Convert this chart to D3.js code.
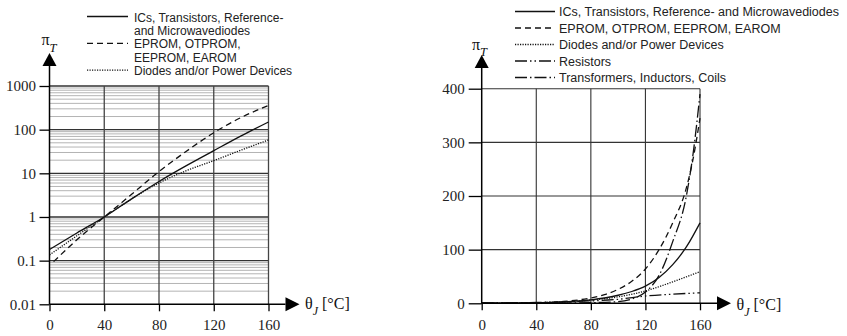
<!DOCTYPE html>
<html>
<head>
<meta charset="utf-8">
<script src="https://cdn.jsdelivr.net/npm/d3@7"></script>
<style>
    body { margin: 0; background: #fff; }
    svg { display: block; }
</style>
</head>
<body>
<svg width="847" height="336"></svg>
<script>
const X_TICKS = [0, 40, 80, 120, 160];
const LOG_TICKS = [0.01, 0.1, 1, 10, 100, 1000];
const LOG_TICK_LABELS = ['0.01', '0.1', '1', '10', '100', '1000'];
const LIN_TICKS = [0, 100, 200, 300, 400];

// left panel (log scale), [theta, pi_T]
const icsLog = [[0, 0.18], [20, 0.43], [40, 1], [60, 2.6], [80, 6.5], [100, 15], [120, 33], [140, 72], [160, 150]];
const epromLog = [[3, 0.095], [20, 0.3], [40, 1], [60, 3.3], [80, 11], [100, 32], [120, 85], [140, 190], [160, 360]];
const diodesLog = [[0, 0.135], [20, 0.37], [40, 1], [60, 2.6], [80, 6], [100, 11.5], [120, 19.5], [140, 34], [160, 58]];

// right panel (linear scale)
const icsLin = [[0, 0.18], [40, 1], [60, 2.6], [80, 6.5], [100, 15], [110, 22], [120, 32], [130, 48], [140, 72], [150, 105], [160, 150]];
const epromLin = [[0, 0.1], [40, 1], [60, 3.4], [80, 10], [90, 16], [100, 26], [110, 41], [120, 64], [130, 100], [140, 150], [150, 215], [155, 270], [160, 345]];
const diodesLin = [[0, 0.135], [40, 1], [80, 6], [100, 12], [120, 23], [140, 40], [160, 59]];
const resistorsLin = [[0, 0.6], [40, 1.6], [60, 2.8], [80, 4.5], [100, 7.5], [120, 13.5], [140, 17], [160, 19.5]];
const transformersLin = [[0, 0.05], [40, 0.2], [60, 0.5], [80, 1.2], [100, 3], [110, 8], [120, 21], [130, 52], [140, 115], [150, 200], [155, 280], [160, 390]];

const LEFT_LEGEND = [
    { lines: ['ICs, Transistors, Reference-', 'and Microwavediodes'], style: 'solid' },
    { lines: ['EPROM, OTPROM,', 'EEPROM, EAROM'], style: 'dashed' },
    { lines: ['Diodes and/or Power Devices'], style: 'dotted' },
];
const RIGHT_LEGEND = [
    { lines: ['ICs, Transistors, Reference- and Microwavediodes'], style: 'solid' },
    { lines: ['EPROM, OTPROM, EEPROM, EAROM'], style: 'dashed' },
    { lines: ['Diodes and/or Power Devices'], style: 'dotted' },
    { lines: ['Resistors'], style: 'dashDotDot' },
    { lines: ['Transformers, Inductors, Coils'], style: 'dashDot' },
];

const DASH = {
    solid: null,
    dashed: '6,4',
    dotted: '1.2,1.3',
    dashDotDot: '12,3,1.5,3,1.5,3',
    dashDot: '12,3,1.5,3',
};
const SERIF = '"Liberation Serif", "Times New Roman", serif';
const SANS = '"Liberation Sans", Arial, sans-serif';

const svg = d3.select('svg');

const xL = d3.scaleLinear().domain([0, 160]).range([49.5, 268.5]);
const yL = d3.scaleLog().domain([0.01, 1000]).range([304.3, 86]);
const xR = d3.scaleLinear().domain([0, 160]).range([481.7, 700]);
const yR = d3.scaleLinear().domain([0, 400]).range([303.3, 88.7]);

// ---------- left panel grid ----------
const minor = [];
[0.01, 0.1, 1, 10, 100].forEach(d => d3.range(2, 10).forEach(k => minor.push(d * k)));

const gL = svg.append('g');
gL.selectAll('.minor').data(minor).enter().append('line')
    .attr('x1', xL(0)).attr('x2', xL(160))
    .attr('y1', d => yL(d)).attr('y2', d => yL(d))
    .attr('stroke', '#b4b4b4').attr('stroke-width', 1);
gL.selectAll('.major').data(LOG_TICKS.slice(1)).enter().append('line')
    .attr('x1', xL(0)).attr('x2', xL(160))
    .attr('y1', d => yL(d)).attr('y2', d => yL(d))
    .attr('stroke', '#333').attr('stroke-width', 1.3);
gL.selectAll('.vgrid').data(X_TICKS.slice(1)).enter().append('line')
    .attr('x1', d => xL(d)).attr('x2', d => xL(d))
    .attr('y1', yL(0.01)).attr('y2', yL(1000))
    .attr('stroke', '#444').attr('stroke-width', 1.3);

// ---------- right panel grid ----------
const gR = svg.append('g');
gR.selectAll('.hgrid').data(LIN_TICKS.slice(1)).enter().append('line')
    .attr('x1', xR(0)).attr('x2', xR(160))
    .attr('y1', d => yR(d)).attr('y2', d => yR(d))
    .attr('stroke', '#333').attr('stroke-width', 1.1);
gR.selectAll('.vgrid').data(X_TICKS.slice(1)).enter().append('line')
    .attr('x1', d => xR(d)).attr('x2', d => xR(d))
    .attr('y1', yR(0)).attr('y2', yR(400))
    .attr('stroke', '#333').attr('stroke-width', 1.1);

// ---------- curves ----------
const drawCurve = (g, data, x, y, style) => {
    const line = d3.line()
        .x(d => x(d[0]))
        .y(d => y(d[1]))
        .curve(d3.curveMonotoneX);
    g.append('path')
        .attr('d', line(data))
        .attr('fill', 'none')
        .attr('stroke', '#111')
        .attr('stroke-width', 1.3)
        .attr('stroke-dasharray', DASH[style]);
}

drawCurve(gL, diodesLog, xL, yL, 'dotted');
drawCurve(gL, epromLog, xL, yL, 'dashed');
drawCurve(gL, icsLog, xL, yL, 'solid');

drawCurve(gR, resistorsLin, xR, yR, 'dashDotDot');
drawCurve(gR, diodesLin, xR, yR, 'dotted');
drawCurve(gR, icsLin, xR, yR, 'solid');
drawCurve(gR, epromLin, xR, yR, 'dashed');
drawCurve(gR, transformersLin, xR, yR, 'dashDot');

// ---------- axes ----------
const styleAxis = (g) => {
    g.select('.domain').remove();
    g.selectAll('.tick line').attr('stroke', '#000').attr('stroke-width', 1.3);
    g.selectAll('.tick text')
        .attr('fill', '#222')
        .style('font-family', SERIF)
        .style('font-size', '15px');
}

svg.append('g')
    .attr('transform', `translate(${xL(0)},0)`)
    .call(d3.axisLeft(yL).tickValues(LOG_TICKS).tickFormat((d, i) => LOG_TICK_LABELS[i]).tickSize(10).tickPadding(3.5))
    .call(styleAxis);
svg.append('g')
    .attr('transform', `translate(0,${yL(0.01)})`)
    .call(d3.axisBottom(xL).tickValues(X_TICKS).tickSize(7).tickPadding(8))
    .call(styleAxis);

svg.append('g')
    .attr('transform', `translate(${xR(0)},0)`)
    .call(d3.axisLeft(yR).tickValues(LIN_TICKS).tickSize(13).tickPadding(4))
    .call(styleAxis);
svg.append('g')
    .attr('transform', `translate(0,${yR(0)})`)
    .call(d3.axisBottom(xR).tickValues(X_TICKS).tickSize(7).tickPadding(9))
    .call(styleAxis);

const drawArrows = (x, y, yTop, yTipGap) => {
    const x0 = x.range()[0];
    const y0 = y.range()[0];
    const xEnd = x.range()[1] + 17;
    const yEnd = y.range()[1] - yTop;
    svg.append('line')
        .attr('x1', x0).attr('x2', xEnd)
        .attr('y1', y0).attr('y2', y0)
        .attr('stroke', '#000').attr('stroke-width', 1.5);
    svg.append('line')
        .attr('x1', x0).attr('x2', x0)
        .attr('y1', y0).attr('y2', yEnd)
        .attr('stroke', '#000').attr('stroke-width', 1.5);
    svg.append('path')
        .attr('d', `M${xEnd},${y0 - 7}L${xEnd + 14},${y0}L${xEnd},${y0 + 7}Z`)
        .attr('fill', '#000');
    svg.append('path')
        .attr('d', `M${x0 - 7},${yEnd}L${x0},${yEnd - yTipGap}L${x0 + 7},${yEnd}Z`)
        .attr('fill', '#000');
}
drawArrows(xL, yL, 20, 13);
drawArrows(xR, yR, 20.7, 13);

// axis titles
const axisTitle = (x, y, main, sub, subDy) => {
    const t = svg.append('text')
        .attr('x', x).attr('y', y)
        .style('font-family', SERIF)
        .style('font-size', '16px')
        .attr('fill', '#111');
    t.append('tspan').text(main);
    t.append('tspan').text(sub)
        .attr('dy', subDy)
        .style('font-style', 'italic')
        .style('font-size', '12.5px');
    return t;
}
axisTitle(41.5, 45, 'π', 'T', 6.5);
axisTitle(472, 50, 'π', 'T', 6);

const thetaTitle = (x, y) => {
    const t = svg.append('text')
        .attr('x', x).attr('y', y)
        .style('font-family', SERIF)
        .style('font-size', '16px')
        .attr('fill', '#111');
    t.append('tspan').text('θ');
    t.append('tspan').text('J').attr('dy', 6.5)
        .style('font-style', 'italic').style('font-size', '12px');
    t.append('tspan').text(' [°C]').attr('dy', -6.5);
}
thetaTitle(305, 308.5);
thetaTitle(736.5, 309.5);

// ---------- legends ----------
const drawLegend = (items, x0, x1, xText, yStart, lineH, gap, lineOffset, size) => {
    let y = yStart;
    items.forEach(item => {
        svg.append('line')
            .attr('x1', x0).attr('x2', x1)
            .attr('y1', y - lineOffset).attr('y2', y - lineOffset)
            .attr('stroke', '#111').attr('stroke-width', 1.3)
            .attr('stroke-dasharray', DASH[item.style]);
        item.lines.forEach((txt, i) => {
            svg.append('text')
                .attr('x', xText).attr('y', y + i * lineH)
                .style('font-family', SANS)
                .style('font-size', size)
                .attr('fill', '#222')
                .text(txt);
        });
        y += item.lines.length * lineH + gap;
    });
}
drawLegend(LEFT_LEGEND, 87, 128, 134, 21.5, 13.4, 0, 5, '12px');
drawLegend(RIGHT_LEGEND, 515, 555, 559, 16, 16.5, 0, 4.5, '12.5px');
</script>
</body>
</html>
